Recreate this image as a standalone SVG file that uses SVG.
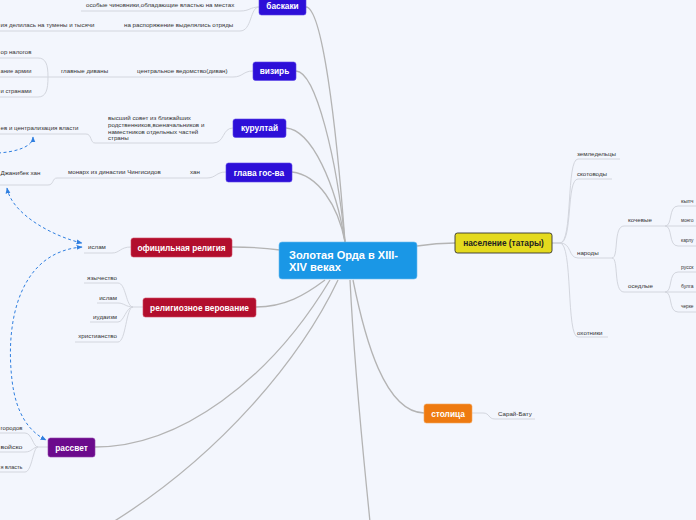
<svg xmlns="http://www.w3.org/2000/svg" width="696" height="520" viewBox="0 0 696 520">
<defs>
<style>
.bg{fill:#f3f6fd}
.main{fill:none;stroke:#b4b4b4;stroke-width:1.3}
.sub{fill:none;stroke:#d3d6de;stroke-width:1}
.rel{fill:none;stroke:#2f7fe0;stroke-width:1;stroke-dasharray:3 2.5}
.t{font-family:"Liberation Sans",Arial,sans-serif;font-size:6.2px;fill:#333}
.e{text-anchor:end}
.n{font-family:"Liberation Sans",Arial,sans-serif;font-size:8.3px;font-weight:bold;fill:#fff;text-anchor:middle}
.ttl{font-family:"Liberation Sans",Arial,sans-serif;font-size:10px;font-weight:bold;fill:#fff}
.blue{fill:#2d0fd8;stroke:#5a45e8;stroke-width:0.6}
.red{fill:#b20e2d;stroke:#d04a62;stroke-width:0.6}
.pur{fill:#6b0a8c;stroke:#9040aa;stroke-width:0.6}
</style>
<marker id="ah" viewBox="0 0 10 10" refX="9" refY="5" markerWidth="6" markerHeight="6" orient="auto-start-reverse" markerUnits="userSpaceOnUse">
<path d="M0,1 L10,5 L0,9 Z" fill="#2f7fe0"/>
</marker>
</defs>
<rect class="bg" x="0" y="0" width="696" height="520"/>

<g id="connectors">
<path class="main" d="M306,7 C322,8 336,120 345,242"/>
<path class="main" d="M296,71 C316,72 337,160 345,242"/>
<path class="main" d="M286,128 C312,130 336,185 345,242"/>
<path class="main" d="M292,172 C318,175 338,205 345,242"/>
<path class="main" d="M417,246 C430,244 440,243 455,243"/>
<path class="main" d="M232,247 C250,247 265,248 280,250"/>
<path class="main" d="M256,307 C285,307 305,295 325,280"/>
<path class="main" d="M95,447 C180,447 270,380 330,280"/>
<path class="main" d="M338,280 C300,360 220,455 113,522"/>
<path class="main" d="M350,280 C355,380 364,460 370,522"/>
<path class="main" d="M353,280 C365,340 385,412 424,413"/>
<path class="sub" d="M81,11 L240,11 C250,11 250,7 259,7"/>
<path class="sub" d="M0,31 L240,31 C252,31 250,7 259,7"/>
<path class="sub" d="M48,77 L233,77 C243,77 243,71 253,71"/>
<path class="sub" d="M0,58 L38,58 C46,58 48,65 48,77"/>
<path class="sub" d="M0,77 L48,77"/>
<path class="sub" d="M0,97 L38,97 C46,97 48,90 48,77"/>
<path class="sub" d="M95,143 L213,143 C225,143 222,128 233,128"/>
<path class="sub" d="M0,134 L86,134 C92,134 90,143 95,143"/>
<path class="sub" d="M57,178 L207,178 C216,178 216,172 226,172"/>
<path class="sub" d="M0,185 L48,185 C54,185 52,178 57,178"/>
<path class="sub" d="M84,253 L112,253 C120,253 120,247 131,247"/>
<path class="sub" d="M84,283 L118,283 C126,283 126,307 133,307 L143,307"/>
<path class="sub" d="M97,303 L118,303 C124,303 126,307 133,307"/>
<path class="sub" d="M90,322 L118,322 C124,322 126,307 133,307"/>
<path class="sub" d="M75,342 L118,342 C126,342 126,307 133,307"/>
<path class="sub" d="M0,433 L25,433 C32,433 33,447 38,447 L48,447"/>
<path class="sub" d="M0,452 L25,452 C32,452 33,447 38,447"/>
<path class="sub" d="M0,472 L25,472 C32,472 33,447 38,447"/>
<path class="sub" d="M552,243 L560,243 C573,243 566,159 578,159 L620,159"/>
<path class="sub" d="M552,243 L560,243 C573,243 566,179 578,179 L612,179"/>
<path class="sub" d="M552,243 L560,243 C572,243 568,258 578,258 L612,258"/>
<path class="sub" d="M552,243 L560,243 C573,243 566,337 578,337 L608,337"/>
<path class="sub" d="M612,258 C619,258 613,226 624,226 L665,226"/>
<path class="sub" d="M612,258 C619,258 613,292 624,292 L665,292"/>
<path class="sub" d="M665,226 C673,226 668,206 678,206 L696,206"/>
<path class="sub" d="M665,226 L696,226"/>
<path class="sub" d="M665,226 C673,226 668,246 678,246 L696,246"/>
<path class="sub" d="M665,292 C673,292 668,272 678,272 L696,272"/>
<path class="sub" d="M665,292 L696,292"/>
<path class="sub" d="M665,292 C673,292 668,312 678,312 L696,312"/>
<path class="sub" d="M472,413 L483,413 C490,413 488,419 495,419 L535,419"/>
<path class="rel" d="M7,188 C12,215 55,237 82,243" marker-start="url(#ah)" marker-end="url(#ah)"/>
<path class="rel" d="M82,247 C20,252 5,320 12,380 C16,415 30,432 46,440" marker-start="url(#ah)" marker-end="url(#ah)"/>
<path class="rel" d="M-2,153 C15,152 33,147 33,137" marker-end="url(#ah)"/>
</g>

<g id="center">
<rect x="279" y="242" width="138" height="37" rx="3" fill="#1a97e6" stroke="#6cbcf0" stroke-width="0.6"/>
<text class="ttl" x="289" y="259" textLength="109" lengthAdjust="spacingAndGlyphs">Золотая Орда в XIII-</text>
<text class="ttl" x="289" y="271" textLength="52" lengthAdjust="spacingAndGlyphs">XIV веках</text>
</g>

<g id="baskaki">
<rect class="blue" x="259" y="-4" width="47" height="19" rx="2.5"/>
<text class="n" x="282.5" y="8.7">баскаки</text>
<text class="t" x="86" y="7.3">особые чиновники,обладающие властью на местах</text>
<text class="t" x="124" y="27.3">на распоряжение выделялись отряды</text>
<text class="t" x="0.5" y="27.3" textLength="94" lengthAdjust="spacingAndGlyphs">ия делилась на тумены  и тысячи</text>
</g>

<g id="vizir">
<rect class="blue" x="253" y="62" width="43" height="18.5" rx="2.5"/>
<text class="n" x="274.5" y="74">визирь</text>
<text class="t" x="137" y="73.3">центральное ведомство(диван)</text>
<text class="t" x="61" y="73.3">главные диваны</text>
<text class="t" x="0.5" y="54.3" textLength="31" lengthAdjust="spacingAndGlyphs">ор налогов</text>
<text class="t" x="0.5" y="73.3" textLength="31" lengthAdjust="spacingAndGlyphs">ание армии</text>
<text class="t" x="0.5" y="93.3" textLength="31" lengthAdjust="spacingAndGlyphs">и странами</text>
</g>

<g id="kurultai">
<rect class="blue" x="233" y="119" width="53" height="18.5" rx="2.5"/>
<text class="n" x="259.5" y="131">курултай</text>
<text class="t" x="108" y="120">высший совет из ближайших</text>
<text class="t" x="108" y="127">родственников,военачальников и</text>
<text class="t" x="108" y="133.7">наместников отдельных частей</text>
<text class="t" x="108" y="140.4">страны</text>
<text class="t" x="0.5" y="130.3" textLength="78" lengthAdjust="spacingAndGlyphs">ев и централизация власти</text>
</g>

<g id="glava">
<rect class="blue" x="226" y="163" width="66" height="19" rx="2.5"/>
<text class="n" x="259" y="175.5">глава гос-ва</text>
<text class="t" x="190" y="174.2">хан</text>
<text class="t" x="68" y="174.2">монарх из династии Чингисидов</text>
<text class="t" x="0.5" y="175">Джанибек хан</text>
</g>

<g id="ofic">
<rect class="red" x="131" y="238" width="101" height="19" rx="2.5"/>
<text class="n" x="181.5" y="250.5">официльная религия</text>
<text class="t" x="88" y="249.3">ислам</text>
</g>

<g id="relig">
<rect class="red" x="143" y="298" width="113" height="19" rx="2.5"/>
<text class="n" x="199.5" y="310.5">религиозное верование</text>
<text class="t e" x="117" y="280.3">язычество</text>
<text class="t e" x="117" y="299.5">ислам</text>
<text class="t e" x="117" y="319.3">иудаизм</text>
<text class="t e" x="117" y="338.3">христианство</text>
</g>

<g id="rassvet">
<rect class="pur" x="48" y="438" width="47" height="19" rx="2.5"/>
<text class="n" x="71.5" y="450.5">рассвет</text>
<text class="t" x="0.5" y="430.3" textLength="22" lengthAdjust="spacingAndGlyphs">городов</text>
<text class="t" x="0.5" y="449.3" textLength="22" lengthAdjust="spacingAndGlyphs">войско</text>
<text class="t" x="0.5" y="469.3" textLength="22" lengthAdjust="spacingAndGlyphs">я власть</text>
</g>

<g id="naselenie">
<rect x="455" y="233" width="97" height="20" rx="2.5" fill="#e4da1e" stroke="#333" stroke-width="0.9"/>
<text class="n" x="503.5" y="246" style="fill:#222">население (татары)</text>
<text class="t" x="577" y="156.3">земледельцы</text>
<text class="t" x="577" y="176.3">скотоводы</text>
<text class="t" x="577" y="255.3">народы</text>
<text class="t" x="577" y="335.3">охотники</text>
<text class="t" x="628" y="222.3">кочевые</text>
<text class="t" x="628" y="288.3">оседлые</text>
<text class="t" x="681" y="203.3" textLength="12.5" lengthAdjust="spacingAndGlyphs">кыпч</text>
<text class="t" x="681" y="222.3" textLength="12.5" lengthAdjust="spacingAndGlyphs">монго</text>
<text class="t" x="681" y="242.3" textLength="12.5" lengthAdjust="spacingAndGlyphs">карлу</text>
<text class="t" x="681" y="269.3" textLength="12.5" lengthAdjust="spacingAndGlyphs">русск</text>
<text class="t" x="681" y="288.3" textLength="12.5" lengthAdjust="spacingAndGlyphs">булга</text>
<text class="t" x="681" y="308.3" textLength="12.5" lengthAdjust="spacingAndGlyphs">черке</text>
</g>

<g id="stolica">
<rect x="424" y="404" width="48" height="19" rx="2.5" fill="#ee7a10" stroke="#f4a860" stroke-width="0.6"/>
<text class="n" x="448" y="416.5">столица</text>
<text class="t" x="498" y="416.3">Сарай-Бату</text>
</g>
</svg>
